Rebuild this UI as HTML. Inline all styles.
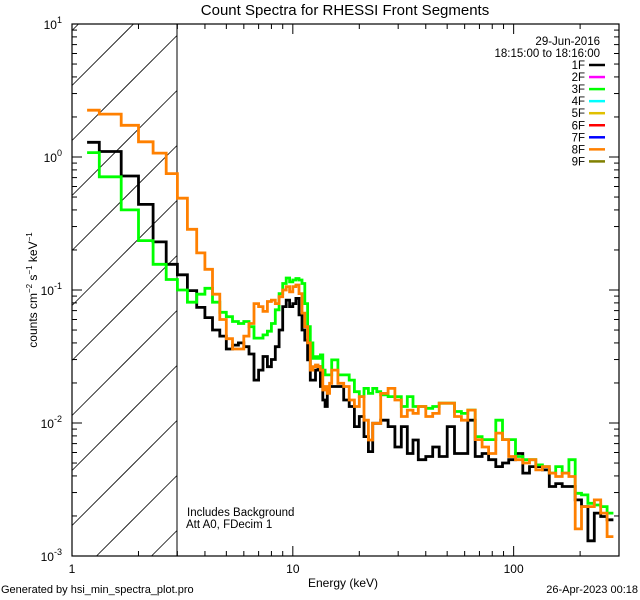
<!DOCTYPE html>
<html><head><meta charset="utf-8">
<style>
html,body{margin:0;padding:0;background:#fff;width:640px;height:600px;overflow:hidden;}
svg{display:block;}
svg text{font-family:"Liberation Sans",sans-serif;fill:#000;}
</style></head>
<body>
<svg id="chart" width="640" height="600" viewBox="0 0 640 600" xmlns="http://www.w3.org/2000/svg">
<rect x="0" y="0" width="640" height="600" fill="#fff"/>
<text x="345" y="15" font-size="15" text-anchor="middle">Count Spectra for RHESSI Front Segments</text>
<defs><clipPath id="pclip"><rect x="72" y="24" width="547" height="532"/></clipPath></defs>
<g id="hatch"></g>
<line x1="177" y1="24" x2="177" y2="556" stroke="#000" stroke-width="1"/>
<g id="axes"></g>
<g id="series" clip-path="url(#pclip)"></g>
<g id="legend"></g>
<text x="600" y="45" font-size="11.5" text-anchor="end">29-Jun-2016</text>
<text x="600" y="57" font-size="11.5" text-anchor="end">18:15:00 to 18:16:00</text>
<text x="187" y="516" font-size="11.5">Includes Background</text>
<text x="186" y="528" font-size="11.5">Att A0, FDecim 1</text>
<text x="343" y="587" font-size="12" text-anchor="middle">Energy (keV)</text>
<text transform="translate(37,290) rotate(-90)" font-size="12" text-anchor="middle">counts cm<tspan font-size="8" dy="-5">−2</tspan><tspan dy="5"> s</tspan><tspan font-size="8" dy="-5">−1</tspan><tspan dy="5"> keV</tspan><tspan font-size="8" dy="-5">−1</tspan></text>
<text x="1" y="593" font-size="11">Generated by hsi_min_spectra_plot.pro</text>
<text x="638" y="593" font-size="11" text-anchor="end">26-Apr-2023 00:18</text>
</svg>
<script>
const edges=[1.17,1.33,1.67,2,2.33,2.67,3,3.33,3.67,4,4.33,4.67,5,5.33,5.67,6,6.33,6.67,7,7.33,7.67,8,8.33,8.67,9,9.33,9.67,10,10.33,10.67,11,11.33,11.67,12,12.33,12.67,13,13.33,13.67,14,14.33,14.67,15,16,17,18,19,20,21,22,23,24,25,27,29,31,33,35,37,40,43,46,50,54,58,62,67,72,77,83,89,95,102,110,118,126,135,145,155,166,178,190,203,217,232,248,265,283,300];
const seg1F=[1.29,1.10,0.72,0.44,0.23,0.156,0.13,0.099,0.074,0.062,0.050,0.045,0.036,
0.0385,0.040,0.0375,0.033,0.021,0.025,0.0316,0.0265,0.030,0.0375,0.050,0.075,0.084,0.075,
0.079,0.0865,0.065,0.050,0.042,0.0298,0.021,0.021,0.025,0.0265,0.0188,0.0149,0.0133,0.0177,0.0188,
0.0188,0.0188,0.0149,0.0133,0.0094,0.0112,0.0079,0.0061,0.00995,0.00995,0.0105,0.0094,0.0066,0.0094,0.0059,0.00745,0.0053,0.0056,0.0066,0.0056,
0.0094,0.0059,0.0059,0.0105,0.0056,0.0059,0.0053,0.0047,0.0050,0.0053,0.0059,0.0042,0.0047,0.0047,0.00444,0.00333,0.0035,0.00333,0.00333,0.00264,0.00235,0.0013,0.0021,0.00198,0.00187];
const seg3F=[1.08,0.71,0.40,0.235,0.156,0.12,0.10,0.081,0.093,0.103,0.081,0.068,0.063,
0.058,0.056,0.058,0.053,0.0435,0.0435,0.046,0.049,0.056,0.071,0.094,0.112,0.123,0.115,
0.119,0.122,0.119,0.112,0.079,0.053,0.040,0.0306,0.0315,0.0306,0.0325,0.025,0.023,0.023,0.023,
0.0298,0.023,0.023,0.021,0.0172,0.0158,0.0182,0.0167,0.0182,0.0172,0.0163,0.0158,0.0158,0.0133,0.0158,0.0133,0.0133,0.0129,0.0133,0.0141,
0.0141,0.0122,0.0118,0.0125,0.0079,0.0075,0.0075,0.0105,0.0075,0.0075,0.0056,0.0053,0.0053,0.00484,0.0047,0.0042,0.0047,0.0042,0.0053,0.00296,0.00288,0.00249,0.00242,0.00235,0.0021];
const seg8F=[2.25,2.1,1.73,1.3,1.07,0.75,0.49,0.286,0.19,0.143,0.093,0.060,0.043,
0.036,0.036,0.045,0.056,0.079,0.075,0.069,0.082,0.084,0.079,0.089,0.10,0.106,0.097,
0.106,0.109,0.094,0.067,0.053,0.040,0.025,0.0265,0.0273,0.0265,0.025,0.0177,0.0188,0.0167,0.0199,
0.025,0.0199,0.0188,0.0149,0.0133,0.0158,0.0105,0.00745,0.00995,0.00995,0.0167,0.0182,0.0149,0.0112,0.0125,0.0118,0.0133,0.0112,0.0118,0.0141,
0.0141,0.0112,0.0105,0.0125,0.0075,0.0066,0.0059,0.0084,0.0075,0.0056,0.0053,0.0050,0.0053,0.00444,0.0047,0.0042,0.00396,0.0042,0.00396,0.0016,0.00235,0.00235,0.00264,0.0021,0.0014];
const legendLabels=["1F","2F","3F","4F","5F","6F","7F","8F","9F"];
const legendColors=["#000000","#ff00ff","#00ff00","#00ffff","#e0c000","#ff0000","#0000ff","#ff8000","#808000"];
const yTickExps=[-3,-2,-1,0,1];
const xTickLabels=["1","10","100"];
const xTickVals=[1,10,100];

const NS="http://www.w3.org/2000/svg";
const X0=72,X1=619,Y0=24,Y1=556,XMIN=1,XMAX=300,YMIN=-3,YMAX=1;
function xs(e){return X0+(Math.log10(e)-Math.log10(XMIN))/(Math.log10(XMAX)-Math.log10(XMIN))*(X1-X0);}
function ys(v){return Y1-(Math.log10(v)-YMIN)/(YMAX-YMIN)*(Y1-Y0);}
function mk(tag,attrs,parent){const el=document.createElementNS(NS,tag);for(const k in attrs)el.setAttribute(k,attrs[k]);parent.appendChild(el);return el;}

const hatch=document.getElementById('hatch');
const HX1=177;
for(let c=85.5-55*3;c<700;c+=55){
  const xa=Math.max(X0,X0+c-Y1), xb=Math.min(HX1,X0+c-Y0);
  if(xa>=xb) continue;
  const l=mk('line',{x1:xa,y1:c-(xa-X0),x2:xb,y2:c-(xb-X0),stroke:'#000','stroke-width':0.8},hatch);
  
  
}
const ax=document.getElementById('axes');
const box=mk('rect',{x:X0,y:Y0,width:X1-X0,height:Y1-Y0,fill:'none',stroke:'#000','stroke-width':1.2},ax);


for(let d=0;d<3;d++){for(let m=1;m<10;m++){const e=Math.pow(10,d)*m;if(e>XMAX)break;const x=xs(e);const L=m===1?10:5;
  mk('line',{x1:x,y1:Y1,x2:x,y2:Y1-L,stroke:'#000'},ax);mk('line',{x1:x,y1:Y0,x2:x,y2:Y0+L,stroke:'#000'},ax);}}
xTickVals.forEach((v,i)=>{const t=mk('text',{x:xs(v),y:573,'font-size':12,'text-anchor':'middle'},ax);t.textContent=xTickLabels[i];
  
  });
for(let p=-3;p<1;p++){for(let m=1;m<10;m++){const v=Math.pow(10,p)*m;const y=ys(v);const L=m===1?10:5;
  mk('line',{x1:X0,y1:y,x2:X0+L,y2:y,stroke:'#000'},ax);mk('line',{x1:X1,y1:y,x2:X1-L,y2:y,stroke:'#000'},ax);}}
yTickExps.forEach(p=>{const t=mk('text',{x:62,y:ys(Math.pow(10,p))+5,'font-size':12,'text-anchor':'end'},ax);
  t.innerHTML='10<tspan font-size="9" dy="-6">'+p+'</tspan>';
  
  });
const sg=document.getElementById('series');
function drawSeries(vals,color,name){
  let d='';
  for(let i=0;i<vals.length;i++){const xa=xs(edges[i]),xb=xs(edges[i+1]),y=ys(vals[i]);d+=(i===0?'M':'L')+xa.toFixed(1)+','+y.toFixed(1)+'L'+xb.toFixed(1)+','+y.toFixed(1);}
  const p=mk('path',{d:d,fill:'none',stroke:color,'stroke-width':2.8,'stroke-linejoin':'miter'},sg);
  
  
}
drawSeries(seg1F,'#000000','series-1f');
drawSeries(seg3F,'#00ff00','series-3f');
drawSeries(seg8F,'#ff8000','series-8f');
const lg=document.getElementById('legend');
legendLabels.forEach((lab,i)=>{const y=69+i*12.05;
  const t=mk('text',{x:585,y:y,'font-size':11.5,'text-anchor':'end'},lg);t.textContent=lab;
  
  
  const l=mk('line',{x1:589,y1:y-4,x2:605,y2:y-4,stroke:legendColors[i],'stroke-width':2.5},lg);
  
  
});
</script>
</body></html>
